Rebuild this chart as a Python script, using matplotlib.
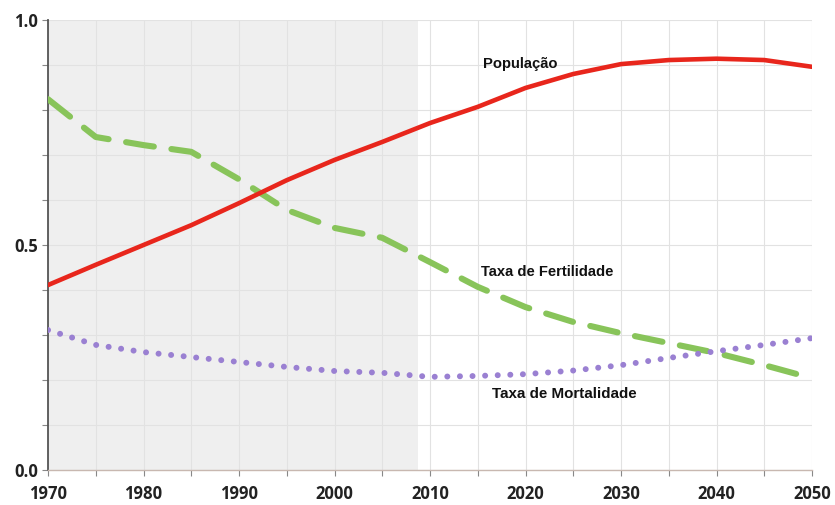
import matplotlib
matplotlib.use('Agg')
from matplotlib import pyplot as plt
from matplotlib.ticker import MultipleLocator

# dados
anos = [1970, 1975, 1980, 1985, 1990, 1995, 2000, 2005, 2010,
        2015, 2020, 2025, 2030, 2035, 2040, 2045, 2050]
populacao = [0.411, 0.456, 0.500, 0.544, 0.593, 0.644, 0.689, 0.729, 0.771,
             0.807, 0.849, 0.880, 0.902, 0.911, 0.914, 0.911, 0.896]
fertilidade = [0.824, 0.740, 0.722, 0.707, 0.646, 0.578, 0.538, 0.516, 0.462,
               0.407, 0.362, 0.329, 0.304, 0.282, 0.260, 0.233, 0.204]
mortalidade = [0.311, 0.278, 0.262, 0.251, 0.240, 0.229, 0.220, 0.216, 0.207,
               0.209, 0.213, 0.221, 0.233, 0.249, 0.264, 0.278, 0.293]
rotulos_y = ['0.0', '0.5', '1.0']
inicio_sombra, fim_sombra = 1970, 2008.7

fig = plt.figure(figsize=(8.35, 5.05), dpi=100)
ax = fig.add_axes([48/835, 35/505, 764/835, 450/505])

ax.axvspan(inicio_sombra, fim_sombra, color='#efefef', zorder=0, lw=0)
ax.set_xlim(1970, 2050)
ax.set_ylim(0, 1)

ax.xaxis.set_major_locator(MultipleLocator(10))
ax.xaxis.set_minor_locator(MultipleLocator(5))
ax.yaxis.set_minor_locator(MultipleLocator(0.1))
ax.set_yticks([0, 0.5, 1.0])
ax.set_yticklabels(rotulos_y)
ax.grid(which='both', color='#e2e2e2', lw=0.8, zorder=1)
ax.set_axisbelow(True)

for s in ['top', 'right']:
    ax.spines[s].set_visible(False)
ax.spines['left'].set_color('#555555')
ax.spines['left'].set_linewidth(1.3)
ax.spines['bottom'].set_color('#c8b8b0')
ax.spines['bottom'].set_linewidth(1.0)
ax.tick_params(which='both', length=4, width=0.8, color='#888888', pad=3)
ax.tick_params(axis='x', which='major', pad=7)
for lab in ax.get_xticklabels() + ax.get_yticklabels():
    lab.set_fontfamily('Open Sans')
    lab.set_fontweight('bold')
    lab.set_fontsize(12)
    lab.set_color('#222222')

ax.plot(anos, populacao, color='#e8261c', lw=3.3, solid_capstyle='round',
        solid_joinstyle='round', zorder=4)
ax.plot(anos, fertilidade, color='#88c45a', lw=4.4, dashes=(4.6, 2.9),
        dash_capstyle='round', zorder=3)
ax.plot(anos, mortalidade, color='#9a80d2', lw=4.3, dashes=(0.01, 2.1),
        dash_capstyle='round', zorder=3)

fonte = dict(family='Liberation Sans', weight='bold', color='#111111')
ax.text(2019.5, 0.902, 'População', ha='center', va='center', fontsize=10.6, **fonte)
ax.text(2022.25, 0.440, 'Taxa de Fertilidade', ha='center', va='center', fontsize=10.6, **fonte)
ax.text(2024.1, 0.168, 'Taxa de Mortalidade', ha='center', va='center', fontsize=10.9, **fonte)

fig.savefig('out.png', dpi=100)
